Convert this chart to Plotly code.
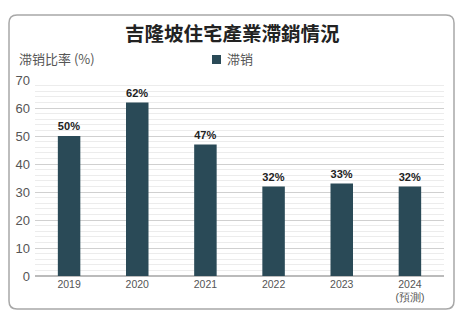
import plotly.graph_objects as go

years = ["2019", "2020", "2021", "2022", "2023", "2024<br>(預測)"]
values = [50, 62, 47, 32, 33, 32]
labels = ["50%", "62%", "47%", "32%", "33%", "32%"]
series_name = "滞销"
title_text = "吉隆坡住宅產業滯銷情況"
y_title = "滞销比率 (%)"

OFF = 8  # page body margin offset
W, H = 470 - OFF, 318 - OFF
# target plot area in screen pixels: x 35..444, y 80..276
L, T = 35 - OFF, 80 - OFF
R, B = W - (444 - OFF), H - (276 - OFF)
pw, ph = W - L - R, H - T - B

def px(x):
    return (x - OFF - L) / pw

def py(y):
    return (H - B - (y - OFF)) / ph

bar_color = "#2a4a57"
font_cjk = "Noto Sans CJK SC, Noto Sans, sans-serif"

fig = go.Figure()
fig.add_trace(go.Bar(
    x=years, y=values, name=series_name,
    marker=dict(color=bar_color, line=dict(width=0)),
    text=labels, textposition="outside",
    textfont=dict(family="Liberation Sans, Arial, sans-serif", size=13, color="#222222", weight="bold"),
    cliponaxis=False, showlegend=False,
))

# rounded frame
x0, x1, y0, y1, r = 9, 454, 15, 309, 8
path = (f"M {px(x0+r)} {py(y0)} L {px(x1-r)} {py(y0)} Q {px(x1)} {py(y0)} {px(x1)} {py(y0+r)} "
        f"L {px(x1)} {py(y1-r)} Q {px(x1)} {py(y1)} {px(x1-r)} {py(y1)} "
        f"L {px(x0+r)} {py(y1)} Q {px(x0)} {py(y1)} {px(x0)} {py(y1-r)} "
        f"L {px(x0)} {py(y0+r)} Q {px(x0)} {py(y0)} {px(x0+r)} {py(y0)} Z")

fig.update_layout(
    width=W, height=H,
    margin=dict(l=L, r=R, t=T, b=B, autoexpand=False),
    paper_bgcolor="white", plot_bgcolor="white",
    bargap=0.67,
    showlegend=False,
    shapes=[
        dict(type="path", path=path, xref="paper", yref="paper",
             line=dict(color="#a8a8a8", width=1.5), layer="below"),
        dict(type="rect", xref="paper", yref="paper",
             x0=px(212), x1=px(221), y0=py(64), y1=py(55),
             fillcolor=bar_color, line=dict(width=0)),
    ],
    annotations=[
        dict(text=title_text, xref="paper", yref="paper", x=px(232), y=py(33),
             xanchor="center", yanchor="middle", showarrow=False,
             font=dict(family="Noto Sans CJK TC, Noto Sans CJK SC, sans-serif", size=19.5, color="#222222", weight="bold")),
        dict(text=y_title, xref="paper", yref="paper", x=px(17), y=py(59),
             xanchor="left", yanchor="middle", showarrow=False,
             font=dict(family=font_cjk, size=13, color="#555555")),
        dict(text=series_name, xref="paper", yref="paper", x=px(225), y=py(59),
             xanchor="left", yanchor="middle", showarrow=False,
             font=dict(family=font_cjk, size=13, color="#555555")),
    ],
    xaxis=dict(showgrid=False, showline=False, ticks="", automargin=False,
               tickfont=dict(family="Liberation Sans Narrow, Arial Narrow, sans-serif", size=10.5, color="#555555")),
    yaxis=dict(range=[0, 70], dtick=10, showgrid=True, gridcolor="#d0d0d0", gridwidth=1,
               zeroline=True, zerolinecolor="#bbbbbb", ticks="", ticklabelstandoff=4, automargin=False,
               tickfont=dict(family="Liberation Sans, Arial, sans-serif", size=13, color="#555555"),
               minor=dict(dtick=2, showgrid=True, gridcolor="#ececec", gridwidth=1)),
)

fig.write_html("out.html")
